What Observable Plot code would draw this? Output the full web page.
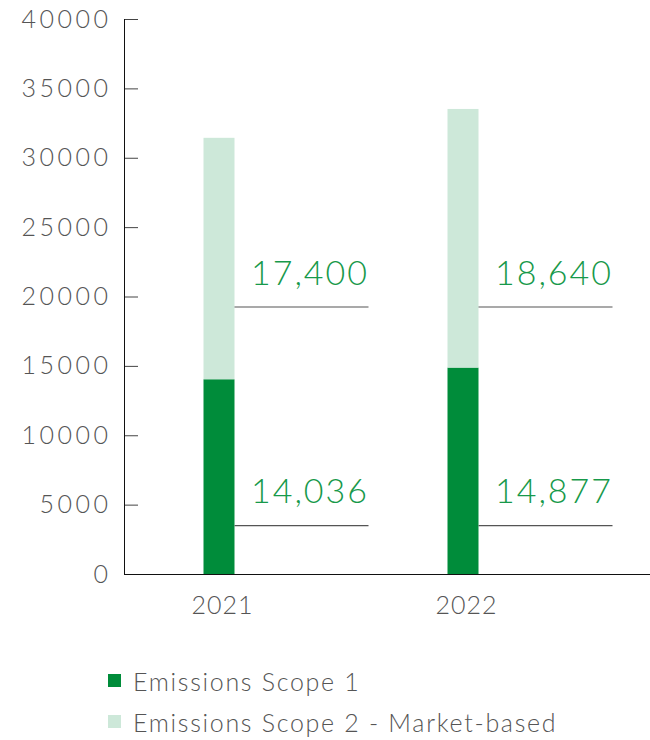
<!DOCTYPE html>
<html>
<head>
<meta charset="utf-8">
<script src="https://cdn.jsdelivr.net/npm/d3@7"></script>
<script src="https://cdn.jsdelivr.net/npm/@observablehq/plot@0.6"></script>
<style>
  body { margin: 0; background: #fff; font-family: Lato, "Open Sans", sans-serif; }
  #legend { padding-top: 20px; padding-left: 108px; color: #555; font-size: 25px; font-weight: 300; letter-spacing: 1.7px; }
  .row { display: flex; align-items: center; height: 41px; }
  .sw { width: 13px; height: 13px; margin-right: 12px; }
  g[aria-label="y-axis tick label"] text { letter-spacing: 3.5px; }
  g[aria-label="x-axis tick label"] text { letter-spacing: 1px; }
  g[aria-label="text"] text { letter-spacing: 2px; }
</style>
</head>
<body>
<div id="chart"></div>
<div id="legend"></div>
<script>
const years = ["2021", "2022"];
const seriesNames = ["Emissions Scope 1", "Emissions Scope 2 - Market-based"];
const scope1 = [14036, 14877];
const scope2 = [17400, 18640];
const seriesColors = ["#008c3a", "#cde8d9"];
const yTicks = [0, 5000, 10000, 15000, 20000, 25000, 30000, 35000, 40000];
const labelLevels = [3525, 19280]; // leader-line levels (scope 1, scope 2)

const rows = [];
years.forEach((yr, i) => {
  rows.push({year: yr, series: seriesNames[0], value: scope1[i]});
  rows.push({year: yr, series: seriesNames[1], value: scope2[i]});
});
const annots = [];
years.forEach((yr, i) => {
  annots.push({year: yr, ly: labelLevels[0], label: d3.format(",")(scope1[i])});
  annots.push({year: yr, ly: labelLevels[1], label: d3.format(",")(scope2[i])});
});

const W = 650, ML = 124, MR = 0;
const frameW = W - ML - MR;
const step = 244, barW = 31, leaderLen = 134;
const inset = (step - barW) / 2;

const chart = Plot.plot({
  width: W,
  height: 640,
  marginLeft: ML,
  marginRight: MR,
  marginTop: 19,
  marginBottom: 66,
  style: {fontFamily: "Lato, 'Open Sans', sans-serif", fontWeight: 300, color: "#555", background: "#fff"},
  x: {type: "band", domain: years, range: [218.5 - step / 2, 218.5 + step * 1.5], padding: 0, label: null},
  y: {domain: [0, 40000], label: null},
  color: {domain: seriesNames, range: seriesColors},
  marks: [
    Plot.barY(rows, {x: "year", y: "value", fill: "series", insetLeft: inset, insetRight: inset}),
    Plot.axisY({ticks: yTicks, tickSize: 0, tickPadding: 13, tickFormat: d3.format("d"), fontSize: 25, fill: "#555", label: null}),
    Plot.tickY(yTicks, {y: d => d, insetRight: frameW - 14, stroke: "#444"}),
    Plot.axisX({tickSize: 0, tickPadding: 22, fontSize: 25, fill: "#555", label: null, dx: 3}),
    Plot.frame({anchor: "left", stroke: "#111"}),
    Plot.ruleY([0], {stroke: "#111"}),
    Plot.tickY(annots, {x: "year", y: "ly", insetLeft: 0, insetRight: step - leaderLen, dx: step / 2 + barW / 2, stroke: "#555", strokeWidth: 1.2}),
    Plot.text(annots, {x: "year", y: "ly", text: "label", textAnchor: "end", dx: barW / 2 + leaderLen, dy: -33, fontSize: 34, fill: "#17994a", fontWeight: 300})
  ]
});
document.getElementById("chart").appendChild(chart);

const legend = document.getElementById("legend");
seriesNames.forEach((n, i) => {
  const r = document.createElement("div");
  r.className = "row";
  r.innerHTML = `<span class="sw" style="background:${seriesColors[i]}"></span><span>${n}</span>`;
  legend.appendChild(r);
});
</script>
</body>
</html>
